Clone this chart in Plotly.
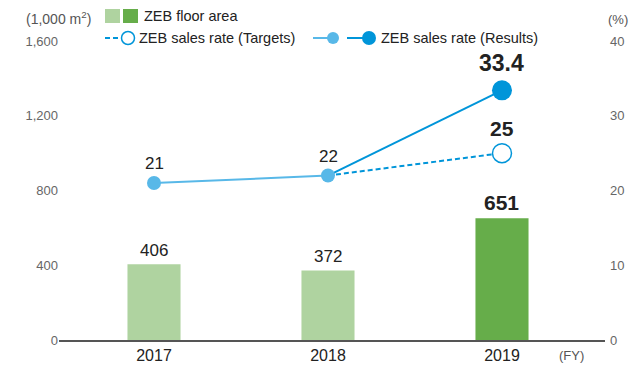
import plotly.graph_objects as go

# ---- data ----
years = ["2017", "2018", "2019"]
floor_area = [406, 372, 651]            # 1,000 m2
rate_results = [21, 22, 33.4]           # %
rate_targets = [None, 22, 25]           # %
left_ticks = [0, 400, 800, 1200, 1600]
right_ticks = [0, 10, 20, 30, 40]

LIGHT_GREEN = "#afd3a0"
DARK_GREEN = "#66ad4a"
LIGHT_BLUE = "#58b8e8"
DARK_BLUE = "#0095d9"
FONT = "Liberation Sans, Arial, sans-serif"

W, H = 635, 365
ML, MR, MT, MB = 59, 30, 41, 25
PW, PH = W - ML - MR, H - MT - MB


def px(x):
    return (x - ML) / PW


def py(y):
    return 1 - (y - MT) / PH


fig = go.Figure()

bar_colors = [LIGHT_GREEN, LIGHT_GREEN, DARK_GREEN]
fig.add_trace(go.Bar(x=years, y=floor_area, marker=dict(color=bar_colors, line=dict(width=0)),
                     width=0.305, yaxis="y", hoverinfo="skip"))

# target line (dashed) 2018 -> 2019
fig.add_trace(go.Scatter(x=years[1:], y=rate_targets[1:], yaxis="y2", mode="lines",
                         line=dict(color=DARK_BLUE, width=2, dash="5px,3px")))
# results line: past years light blue, latest year dark blue
fig.add_trace(go.Scatter(x=years[:2], y=rate_results[:2], yaxis="y2", mode="lines",
                         line=dict(color=LIGHT_BLUE, width=2)))
fig.add_trace(go.Scatter(x=years[1:], y=rate_results[1:], yaxis="y2", mode="lines",
                         line=dict(color=DARK_BLUE, width=2)))
# markers
fig.add_trace(go.Scatter(x=years[:2], y=rate_results[:2], yaxis="y2", mode="markers",
                         marker=dict(color=LIGHT_BLUE, size=14, line=dict(width=0))))
fig.add_trace(go.Scatter(x=[years[2]], y=[rate_targets[2]], yaxis="y2", mode="markers",
                         marker=dict(color="white", size=19, line=dict(color=DARK_BLUE, width=1.5))))
fig.add_trace(go.Scatter(x=[years[2]], y=[rate_results[2]], yaxis="y2", mode="markers",
                         marker=dict(color=DARK_BLUE, size=20, line=dict(width=0))))

ann = []
last = len(years) - 1
# bar value labels (x given as category index)
for i, v in enumerate(floor_area):
    latest = i == last
    ann.append(dict(x=i, y=v, xref="x", yref="y", text=f"<b>{v}</b>" if latest else str(v),
                    showarrow=False, yanchor="bottom", yshift=2,
                    font=dict(family=FONT, size=21 if latest else 17, color="#222")))
# rate labels
for i, v in enumerate(rate_results):
    latest = i == last
    txt = f"{v:g}"
    ann.append(dict(x=i, y=v, xref="x", yref="y2", text=f"<b>{txt}</b>" if latest else txt,
                    showarrow=False, yanchor="bottom", yshift=12 if latest else 8,
                    font=dict(family=FONT, size=23 if latest else 17, color="#222")))
ann.append(dict(x=last, y=rate_targets[last], xref="x", yref="y2", text=f"<b>{rate_targets[last]}</b>",
                showarrow=False, yanchor="bottom", yshift=11,
                font=dict(family=FONT, size=21, color="#222")))

# axis unit labels
ann.append(dict(x=px(24), y=py(18), xref="paper", yref="paper", text="(1,000 m<sup>2</sup>)",
                showarrow=False, xanchor="left", yanchor="middle",
                font=dict(family=FONT, size=14, color="#555")))
ann.append(dict(x=px(606), y=py(19), xref="paper", yref="paper", text="(%)",
                showarrow=False, xanchor="left", yanchor="middle",
                font=dict(family=FONT, size=13, color="#555")))
ann.append(dict(x=px(557), y=py(355), xref="paper", yref="paper", text="(FY)",
                showarrow=False, xanchor="left", yanchor="middle",
                font=dict(family=FONT, size=13, color="#555")))

# legend entries
shapes = []
shapes.append(dict(type="rect", xref="paper", yref="paper", x0=px(105), x1=px(120),
                   y0=py(23), y1=py(9), fillcolor=LIGHT_GREEN, line=dict(width=0)))
shapes.append(dict(type="rect", xref="paper", yref="paper", x0=px(123), x1=px(138),
                   y0=py(23), y1=py(9), fillcolor=DARK_GREEN, line=dict(width=0)))
ann.append(dict(x=px(142), y=py(16), xref="paper", yref="paper", text="ZEB floor area",
                showarrow=False, xanchor="left", yanchor="middle",
                font=dict(family=FONT, size=14.5, color="#222")))

shapes.append(dict(type="line", xref="paper", yref="paper", x0=px(105), x1=px(121),
                   y0=py(38), y1=py(38), line=dict(color=DARK_BLUE, width=2, dash="5px,3px")))
shapes.append(dict(type="circle", xref="paper", yref="paper", x0=px(121.5), x1=px(134.5),
                   y0=py(44.5), y1=py(31.5), fillcolor="white", line=dict(color=DARK_BLUE, width=1.5)))
ann.append(dict(x=px(137), y=py(38), xref="paper", yref="paper", text="ZEB sales rate (Targets)",
                showarrow=False, xanchor="left", yanchor="middle",
                font=dict(family=FONT, size=14.5, color="#222")))

shapes.append(dict(type="line", xref="paper", yref="paper", x0=px(313), x1=px(330),
                   y0=py(38), y1=py(38), line=dict(color=LIGHT_BLUE, width=2)))
shapes.append(dict(type="circle", xref="paper", yref="paper", x0=px(327), x1=px(339),
                   y0=py(44), y1=py(32), fillcolor=LIGHT_BLUE, line=dict(width=0)))
shapes.append(dict(type="line", xref="paper", yref="paper", x0=px(347), x1=px(364),
                   y0=py(38), y1=py(38), line=dict(color=DARK_BLUE, width=2)))
shapes.append(dict(type="circle", xref="paper", yref="paper", x0=px(362), x1=px(376),
                   y0=py(45), y1=py(31), fillcolor=DARK_BLUE, line=dict(width=0)))
ann.append(dict(x=px(379), y=py(38), xref="paper", yref="paper", text="ZEB sales rate (Results)",
                showarrow=False, xanchor="left", yanchor="middle",
                font=dict(family=FONT, size=14.5, color="#222")))

fig.update_layout(
    width=W, height=H,
    margin=dict(l=ML, r=MR, t=MT, b=MB, autoexpand=False),
    paper_bgcolor="white", plot_bgcolor="white",
    showlegend=False,
    font=dict(family=FONT),
    xaxis=dict(type="category", range=[-0.546, 2.592], showgrid=False, zeroline=False,
               showline=True, linecolor="#555", linewidth=2, ticks="",
               tickfont=dict(family=FONT, size=16, color="#222"), ticklabelstandoff=0),
    yaxis=dict(range=[0, 1600], tickvals=left_ticks, ticktext=[f"{v:,}" for v in left_ticks],
               showgrid=False, zeroline=False, showline=False, ticks="",
               tickfont=dict(family=FONT, size=13, color="#666"), ticklabelstandoff=0),
    yaxis2=dict(range=[0, 40], tickvals=right_ticks, overlaying="y", side="right",
                showgrid=False, zeroline=False, showline=False, ticks="",
                tickfont=dict(family=FONT, size=13, color="#666"), ticklabelstandoff=4),
    annotations=ann,
    shapes=shapes,
)

fig.write_html("out.html")
